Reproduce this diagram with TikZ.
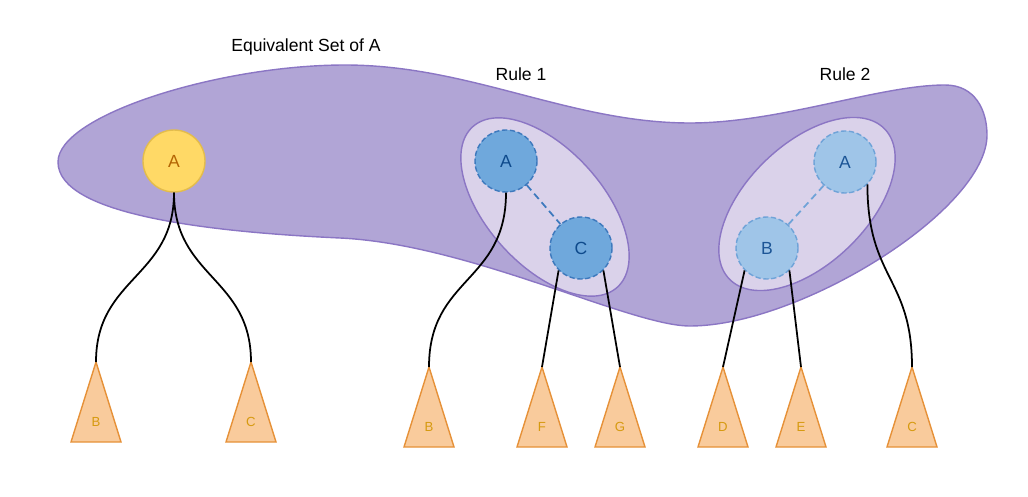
\documentclass[tikz,border=0pt]{standalone}
\usepackage{fontspec}
\setmainfont{Liberation Sans}
\usepackage{tikz}
\usetikzlibrary{positioning}
\definecolor{setfill}{HTML}{B1A5D6}
\definecolor{setdraw}{HTML}{8B76C4}
\definecolor{rulefill}{HTML}{DAD2EA}
\definecolor{rootfill}{HTML}{FFD966}
\definecolor{rootdraw}{HTML}{E3BC4C}
\definecolor{roottext}{HTML}{B46504}
\definecolor{darkfill}{HTML}{6FA8DC}
\definecolor{darkdraw}{HTML}{3D79BD}
\definecolor{darktext}{HTML}{0E4A8C}
\definecolor{lightfill}{HTML}{9FC5E8}
\definecolor{lightdraw}{HTML}{6FA3D8}
\definecolor{lighttext}{HTML}{1C5596}
\definecolor{treefill}{HTML}{F9CB9C}
\definecolor{treedraw}{HTML}{E69138}
\definecolor{treetext}{HTML}{D69A10}

\begin{document}
\begin{tikzpicture}[x=0.02cm, y=-0.02cm,
        setline/.style={draw=setdraw, line width=0.8pt},
        item/.style={
        circle,
        minimum size=1.24cm,
        inner sep=0pt,
        line width=0.8pt,
        font=\fontsize{10}{12}\selectfont},
        root/.style={item, draw=rootdraw, fill=rootfill, text=roottext},
        darkitem/.style={item, draw=darkdraw, fill=darkfill, text=darktext, dash pattern=on 3pt off 1.5pt},
        lightitem/.style={item, draw=lightdraw, fill=lightfill, text=lighttext, dash pattern=on 3pt off 1.5pt},
        subtree/.style={draw=treedraw, fill=treefill, line width=0.8pt, line join=miter},
        leaf/.style={text=treetext, font=\fontsize{7.5}{9}\selectfont},
        edge/.style={draw=black, line width=1pt},
        caption/.style={font=\fontsize{10}{12}\selectfont}]

        \useasboundingbox (0,0) rectangle (1028,497);

        % the equivalent set
        \draw[setline, fill=setfill] (58,162)
            .. controls (58,115) and (220,65) .. (345,65)
            .. controls (470,65) and (570,123) .. (690,123)
            .. controls (780,123) and (880,85) .. (945,85)
            .. controls (975,85) and (987,110) .. (987,135)
            .. controls (987,210) and (800,326) .. (690,326)
            .. controls (630,326) and (470,244) .. (340,238)
            .. controls (210,232) and (58,215) .. (58,162) -- cycle;

        % the two rules
        \draw[setline, fill=rulefill, rotate around={-48:(545,207)}] (545,207) ellipse [x radius=108, y radius=58];
        \draw[setline, fill=rulefill, rotate around={44:(807,204)}] (807,204) ellipse [x radius=108, y radius=60];

        \node[root] (yA) at (174,161) {A};
        \node[darkitem] (r1A) at (506,161) {A};
        \node[darkitem] (r1C) at (581,248) {C};
        \node[lightitem] (r2A) at (845,162) {A};
        \node[lightitem] (r2B) at (767,248) {B};

        \draw[darkdraw, line width=1pt, dash pattern=on 4pt off 2.5pt] (r1A) -- (r1C);
        \draw[lightdraw, line width=1pt, dash pattern=on 4pt off 2.5pt] (r2A) -- (r2B);

        \node[caption] (eqset) at (306,47) {Equivalent Set of A};
        \node[caption] (rule1) at (521,74) {Rule 1};
        \node[caption] (rule2) at (845,74) {Rule 2};

        % subtrees
        \foreach \n/\x/\y/\t in {tB1/96/362/B, tC1/251/362/C, tB2/429/367/B, tF/542/367/F,
                                 tG/620/367/G, tD/723/367/D, tE/801/367/E, tC2/912/367/C} {
            \coordinate (\n) at (\x,\y);
            \draw[subtree] (\n) -- ++(25,80) -- ++(-50,0) -- cycle;
            \node[leaf] at (\x,{\y+60}) {\t};
        }

        \draw[edge] (yA.south) .. controls +(0,85) and +(0,-85) .. (tB1);
        \draw[edge] (yA.south) .. controls +(0,85) and +(0,-85) .. (tC1);
        \draw[edge] (r1A.south) .. controls +(0,90) and +(0,-90) .. (tB2);
        \draw[edge] (r1C.-135) -- (tF);
        \draw[edge] (r1C.-45) -- (tG);
        \draw[edge] (r2B.-135) -- (tD);
        \draw[edge] (r2B.-45) -- (tE);
        \draw[edge] (r2A.-45) .. controls +(0,95) and +(0,-90) .. (tC2);
\end{tikzpicture}
\end{document}
